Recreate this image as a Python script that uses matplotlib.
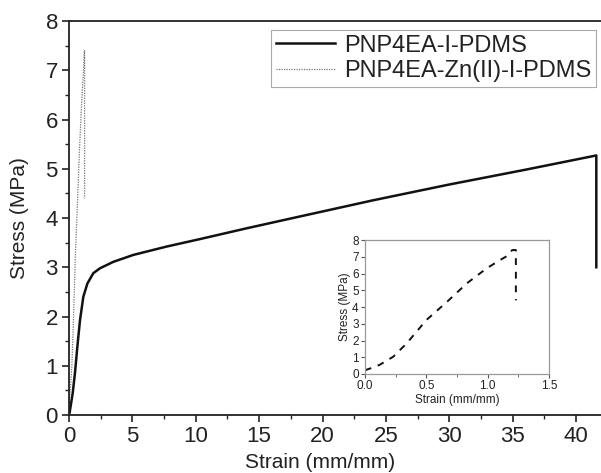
import matplotlib
matplotlib.use("Agg")
import matplotlib.pyplot as plt
from matplotlib.ticker import MultipleLocator

plt.rcParams['font.family'] = ['Liberation Sans', 'DejaVu Sans']

# Data
strain_a = [0.05, 0.08, 0.29, 0.47, 0.66, 0.87, 1.13, 1.45, 1.92, 2.45, 3.5, 5.07, 7.7, 10.3, 14, 18.2, 24, 30, 36, 41.6, 41.6]
stress_a = [0.05, 0.1, 0.44, 0.85, 1.39, 1.93, 2.4, 2.67, 2.88, 2.98, 3.11, 3.25, 3.42, 3.57, 3.79, 4.03, 4.36, 4.68, 4.98, 5.27, 3.0]

strain_b = [0.0, 0.01, 0.05, 0.12, 0.23, 0.34, 0.5, 0.67, 0.83, 0.99, 1.10, 1.16, 1.2, 1.23, 1.23]
stress_b = [0.2, 0.25, 0.35, 0.55, 1.03, 1.83, 3.22, 4.32, 5.41, 6.3, 6.8, 7.05, 7.4, 7.4, 4.4]

label_a = "PNP4EA-I-PDMS"
label_b = "PNP4EA-Zn(II)-I-PDMS"

main_xticks = [0, 5, 10, 15, 20, 25, 30, 35, 40]
main_yticks = [0, 1, 2, 3, 4, 5, 6, 7, 8]
inset_xticks = [0.0, 0.5, 1.0, 1.5]
inset_xticklabels = ['0.0', '0.5', '1.0', '1.5']
inset_yticks = [0, 1, 2, 3, 4, 5, 6, 7, 8]

txt = '#222222'
fig = plt.figure(figsize=(6.01, 4.73), dpi=100)
ax = fig.add_axes([69/601, 1-415/473, 1-69/601, (415-21)/473])
ax.plot(strain_a, stress_a, color='#111111', lw=1.8, label=label_a)
ax.plot(strain_b, stress_b, color='#777777', lw=0.9, ls=(0, (1, 1)), label=label_b)
ax.set_xlim(0, 41.97)
ax.set_ylim(0, 8)
ax.set_xticks(main_xticks)
ax.set_yticks(main_yticks)
ax.xaxis.set_minor_locator(MultipleLocator(2.5))
ax.yaxis.set_minor_locator(MultipleLocator(0.5))
ax.spines['right'].set_visible(False)
for s in ['left', 'bottom', 'top']:
    ax.spines[s].set_linewidth(1.3)
    ax.spines[s].set_color('#222222')
ax.tick_params(which='major', direction='out', length=5, width=1.2, labelsize=16, colors='#222222', labelcolor=txt, pad=3)
ax.tick_params(which='minor', direction='out', length=3, width=1.0, colors='#222222')
fig.text(320/601, 1-462/473, "Strain (mm/mm)", fontsize=15, color=txt, ha='center', va='center')
fig.text(20/601, 1-218/473, "Stress (MPa)", fontsize=15, color=txt, ha='center', va='center', rotation=90)
leg = ax.legend(loc='upper right', fontsize=17, frameon=True, fancybox=False, edgecolor='#aaaaaa', framealpha=1,
                handlelength=2.5, handletextpad=0.4, borderpad=0.2, labelspacing=0.15, borderaxespad=0)
for t in leg.get_texts():
    t.set_color(txt)
leg.get_frame().set_linewidth(0.8)
leg.set_bbox_to_anchor(((596-69)/532, 1 - 9/394), transform=ax.transAxes)

ins = fig.add_axes([365/601, 1-374/473, 184/601, 134/473])
ins.plot(strain_b, stress_b, color='#111111', lw=1.4, ls=(0, (3.5, 3.5)))
ins.set_xlim(0, 1.5)
ins.set_ylim(0, 8)
ins.set_xticks(inset_xticks)
ins.set_xticklabels(inset_xticklabels)
ins.set_yticks(inset_yticks)
ins.xaxis.set_minor_locator(MultipleLocator(0.25))
for s in ins.spines.values():
    s.set_color('#999999')
    s.set_linewidth(0.9)
ins.tick_params(which='major', direction='out', length=3, width=0.8, labelsize=8.5, colors='#555555', labelcolor=txt, pad=1.5)
ins.tick_params(which='minor', direction='out', length=2, width=0.6, colors='#555555')
ins.set_xlabel("Strain (mm/mm)", fontsize=8.5, color=txt, labelpad=1)
ins.set_ylabel("Stress (MPa)", fontsize=8.5, color=txt, labelpad=1)

fig.savefig("out.png", dpi=100, facecolor='white')
